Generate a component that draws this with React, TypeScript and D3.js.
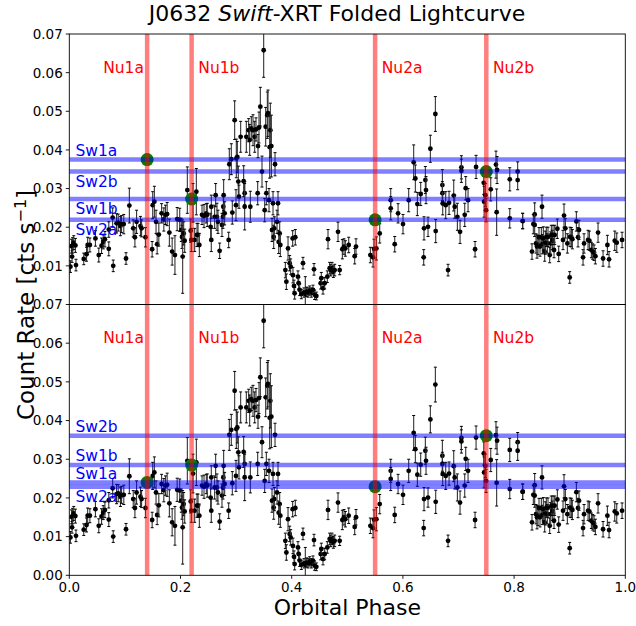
import React from 'react';
import * as d3 from 'd3';

// folded light curve (same points in both panels)
const phase = [
  0.002, 0.004, 0.005, 0.006, 0.008, 0.011, 0.012, 0.026, 0.031, 0.033, 0.037, 0.047, 0.053, 0.058, 0.061, 0.064,
  0.071, 0.071, 0.078, 0.079, 0.085, 0.088, 0.092, 0.094, 0.098, 0.102, 0.108, 0.115, 0.118, 0.121, 0.128, 0.130,
  0.137, 0.149, 0.150, 0.153, 0.156, 0.158, 0.161, 0.166, 0.170, 0.173, 0.176, 0.180, 0.185, 0.190, 0.194, 0.1986,
  0.2015, 0.2027, 0.2039, 0.2057, 0.2075, 0.2123, 0.2183, 0.2195, 0.2225, 0.2255, 0.2285, 0.2297, 0.2315, 0.2339,
  0.2387, 0.2423, 0.2465, 0.2482, 0.2542, 0.2554, 0.2554, 0.2614, 0.2632, 0.2656, 0.2674, 0.2704, 0.2746, 0.2764,
  0.2770, 0.2776, 0.2794, 0.2866, 0.2878, 0.2914, 0.2932, 0.2974, 0.2998, 0.3004, 0.3022, 0.3040, 0.3052, 0.3082,
  0.3136, 0.3154, 0.3154, 0.3184, 0.3226, 0.3244, 0.3256, 0.3274, 0.3304, 0.3334, 0.3358, 0.3388, 0.3394, 0.3412,
  0.3436, 0.3466, 0.3496, 0.3514, 0.3532, 0.3544, 0.3562, 0.3574, 0.3592, 0.3604, 0.3616, 0.3634, 0.3646, 0.3664,
  0.3676, 0.3688, 0.3700, 0.3736, 0.3754, 0.3766, 0.3784, 0.3796, 0.3886, 0.3904, 0.3934, 0.3963, 0.3981, 0.4017,
  0.4023, 0.4041, 0.4053, 0.4065, 0.4113, 0.4125, 0.4143, 0.4173, 0.4203, 0.4221, 0.4245, 0.4269, 0.4293, 0.4323,
  0.4353, 0.4383, 0.4401, 0.4413, 0.4443, 0.4521, 0.4533, 0.4563, 0.4593, 0.4641, 0.4653, 0.4683, 0.4701, 0.4725,
  0.4749, 0.4773, 0.4833, 0.4863, 0.4911, 0.4941, 0.4965, 0.5025, 0.5133, 0.5157, 0.5415, 0.5463, 0.5481, 0.5523,
  0.5583, 0.5781, 0.5781, 0.5853, 0.5913, 0.6002, 0.6104, 0.6194, 0.6224, 0.6260, 0.6320, 0.6374, 0.6380, 0.6404,
  0.6416, 0.6452, 0.6494, 0.6584, 0.6590, 0.6710, 0.6710, 0.6716, 0.6770, 0.6812, 0.6830, 0.6914, 0.6932, 0.6980,
  0.7028, 0.7052, 0.7052, 0.7112, 0.7130, 0.7172, 0.7298, 0.7316, 0.7454, 0.7460, 0.7484, 0.7496, 0.7580, 0.7674,
  0.7686, 0.7694, 0.7922, 0.7922, 0.8064, 0.8064, 0.8154, 0.8154, 0.8322, 0.8346, 0.8370, 0.8370, 0.8394, 0.8412,
  0.8430, 0.8448, 0.8466, 0.8490, 0.8502, 0.8508, 0.8526, 0.8550, 0.8562, 0.8580, 0.8598, 0.8610, 0.8640, 0.8658,
  0.8670, 0.8688, 0.8700, 0.8718, 0.8730, 0.8778, 0.8802, 0.8880, 0.8898, 0.8922, 0.8958, 0.9000, 0.9006, 0.9030,
  0.9048, 0.9120, 0.9150, 0.9168, 0.9240, 0.9258, 0.9330, 0.9354, 0.9390, 0.9414, 0.9438, 0.9462, 0.9510, 0.9600,
  0.9678, 0.9708, 0.9810, 0.9846, 0.9942,
];
const rate = [
  0.0098, 0.0151, 0.0124, 0.0153, 0.0160, 0.0153, 0.0102, 0.0118, 0.0130, 0.0154, 0.0154, 0.0171, 0.0128, 0.0152, 0.0162, 0.0169,
  0.0144, 0.0194, 0.0225, 0.0100, 0.0210, 0.0212, 0.0203, 0.0208, 0.0208, 0.0119, 0.0256, 0.0197, 0.0174, 0.0214, 0.0203, 0.0197,
  0.0174, 0.0143, 0.0257, 0.0266, 0.0214, 0.0156, 0.0181, 0.0236, 0.0220, 0.0232, 0.0234, 0.0186, 0.0137, 0.0128, 0.0221, 0.0219,
  0.0193, 0.0175, 0.0124, 0.0184, 0.0165, 0.0296, 0.0191, 0.0167, 0.0263, 0.0167, 0.0292, 0.0180, 0.0180, 0.0154,
  0.0232, 0.0229, 0.0236, 0.0232, 0.0201, 0.0253, 0.0167, 0.0227, 0.0283, 0.0227, 0.0214, 0.0139, 0.0206, 0.0227,
  0.0253, 0.0283, 0.0236, 0.0167, 0.0363, 0.0376, 0.0238, 0.0477, 0.0257, 0.0378, 0.0382, 0.0318, 0.0279, 0.0434,
  0.0319, 0.0288, 0.0253, 0.0434, 0.0451, 0.0426, 0.0253, 0.0456, 0.0451, 0.0434, 0.0453, 0.0288, 0.0410, 0.0458,
  0.0512, 0.0344, 0.0658, 0.0244, 0.0460, 0.0288, 0.0490, 0.0495, 0.0270, 0.0407, 0.0451, 0.0410, 0.0193, 0.0262,
  0.0175, 0.0197, 0.0363, 0.0214, 0.0262, 0.0162, 0.0184, 0.0154, 0.0089, 0.0059, 0.0145, 0.0107, 0.0098, 0.0171,
  0.0076, 0.0048, 0.0029, 0.0174, 0.0072, 0.0055, 0.0038, 0.0027, 0.0107, 0.0031, 0.0027, 0.0033, 0.0031, 0.0036,
  0.0031, 0.0038, 0.0091, 0.0025, 0.0022, 0.0055, 0.0068, 0.0042, 0.0055, 0.0072, 0.0169, 0.0094, 0.0089, 0.0094,
  0.0085, 0.0089, 0.0188, 0.0089, 0.0143, 0.0150, 0.0145, 0.0154, 0.0125, 0.0150, 0.0128, 0.0122, 0.0144, 0.0145,
  0.0184, 0.0270, 0.0249, 0.0156, 0.0236, 0.0208, 0.0270, 0.0368, 0.0326, 0.0260, 0.0286, 0.0122, 0.0197, 0.0322,
  0.0296, 0.0201, 0.0403, 0.0493, 0.0190, 0.0309, 0.0288, 0.0262, 0.0257, 0.0089, 0.0263, 0.0282, 0.0253, 0.0227,
  0.0188, 0.0355, 0.0346, 0.0232, 0.0301, 0.0270, 0.0143, 0.0356, 0.0315, 0.0266, 0.0283, 0.0244, 0.0298, 0.0362,
  0.0239, 0.0348, 0.0324, 0.0223, 0.0344, 0.0322, 0.0216, 0.0216, 0.0137, 0.0208, 0.0233, 0.0206, 0.0158, 0.0150,
  0.0154, 0.0174, 0.0150, 0.0174, 0.0253, 0.0156, 0.0171, 0.0137, 0.0160, 0.0175, 0.0158, 0.0175, 0.0128, 0.0158,
  0.0180, 0.0167, 0.0180, 0.0141, 0.0180, 0.0196, 0.0131, 0.0167, 0.0230, 0.0197, 0.0158, 0.0070, 0.0175, 0.0174,
  0.0169, 0.0215, 0.0174, 0.0193, 0.0122, 0.0158, 0.0167, 0.0165, 0.0141, 0.0137, 0.0134, 0.0125, 0.0186, 0.0119,
  0.0154, 0.0117, 0.0165, 0.0160, 0.0167,
];
const rateErr = [
  0.0015, 0.0018, 0.0015, 0.0020, 0.0018, 0.0018, 0.0015, 0.0015, 0.0018, 0.0020, 0.0018, 0.0020, 0.0018, 0.0020, 0.0018, 0.0020,
  0.0018, 0.0020, 0.0025, 0.0015, 0.0025, 0.0022, 0.0025, 0.0022, 0.0025, 0.0015, 0.0045, 0.0022, 0.0025, 0.0030, 0.0025, 0.0022,
  0.0025, 0.0020, 0.0035, 0.0040, 0.0030, 0.0025, 0.0030, 0.0025, 0.0030, 0.0025, 0.0030, 0.0035, 0.0035, 0.0050, 0.0030, 0.0030,
  0.0030, 0.0030, 0.0095, 0.0030, 0.0030, 0.0060, 0.0030, 0.0030, 0.0050, 0.0030, 0.0060, 0.0030, 0.0030, 0.0030,
  0.0025, 0.0030, 0.0025, 0.0030, 0.0035, 0.0030, 0.0030, 0.0030, 0.0030, 0.0035, 0.0030, 0.0020, 0.0030, 0.0030,
  0.0030, 0.0040, 0.0030, 0.0020, 0.0040, 0.0040, 0.0030, 0.0050, 0.0040, 0.0050, 0.0040, 0.0040, 0.0030, 0.0040,
  0.0040, 0.0030, 0.0060, 0.0040, 0.0030, 0.0040, 0.0040, 0.0030, 0.0040, 0.0040, 0.0030, 0.0030, 0.0030, 0.0040,
  0.0050, 0.0040, 0.0070, 0.0030, 0.0050, 0.0030, 0.0060, 0.0060, 0.0030, 0.0080, 0.0070, 0.0080, 0.0030, 0.0030,
  0.0030, 0.0030, 0.0030, 0.0030, 0.0030, 0.0030, 0.0030, 0.0030, 0.0020, 0.0020, 0.0030, 0.0020, 0.0020, 0.0020,
  0.0020, 0.0015, 0.0015, 0.0020, 0.0015, 0.0015, 0.0015, 0.0012, 0.0015, 0.0012, 0.0045, 0.0012, 0.0012, 0.0012,
  0.0012, 0.0012, 0.0015, 0.0012, 0.0010, 0.0015, 0.0015, 0.0015, 0.0015, 0.0015, 0.0025, 0.0015, 0.0015, 0.0015,
  0.0015, 0.0015, 0.0025, 0.0012, 0.0025, 0.0020, 0.0020, 0.0020, 0.0020, 0.0020, 0.0020, 0.0025, 0.0025, 0.0030,
  0.0025, 0.0030, 0.0030, 0.0020, 0.0025, 0.0025, 0.0030, 0.0045, 0.0035, 0.0030, 0.0030, 0.0020, 0.0030, 0.0035,
  0.0035, 0.0025, 0.0035, 0.0045, 0.0030, 0.0040, 0.0030, 0.0030, 0.0035, 0.0015, 0.0030, 0.0040, 0.0030, 0.0035,
  0.0030, 0.0030, 0.0030, 0.0030, 0.0030, 0.0030, 0.0020, 0.0030, 0.0030, 0.0040, 0.0030, 0.0030, 0.0030, 0.0035,
  0.0060, 0.0035, 0.0030, 0.0025, 0.0025, 0.0025, 0.0020, 0.0020, 0.0020, 0.0025, 0.0030, 0.0030, 0.0025, 0.0030,
  0.0025, 0.0025, 0.0025, 0.0025, 0.0030, 0.0025, 0.0030, 0.0025, 0.0030, 0.0025, 0.0025, 0.0025, 0.0020, 0.0030,
  0.0025, 0.0025, 0.0025, 0.0020, 0.0025, 0.0025, 0.0020, 0.0025, 0.0030, 0.0025, 0.0025, 0.0015, 0.0025, 0.0025,
  0.0025, 0.0025, 0.0025, 0.0025, 0.0020, 0.0025, 0.0025, 0.0025, 0.0020, 0.0020, 0.0020, 0.0020, 0.0025, 0.0020,
  0.0025, 0.0020, 0.0025, 0.0025, 0.0020,
];

// NuSTAR epochs (vertical) and matching Swift levels (horizontal)
const nuNames = ['Nu1a', 'Nu1b', 'Nu2a', 'Nu2b'];
const nuPhase = [0.14, 0.22, 0.55, 0.75];
const swNames = ['Sw1a', 'Sw1b', 'Sw2a', 'Sw2b'];
const swTop = [0.0375, 0.0273, 0.0219, 0.0344];
const swBottom = [0.0240, 0.0285, 0.0229, 0.0361];
const swBelowTop = [false, true, true, true];
const swBelowBottom = [false, false, true, false];

const yTicks = [0, 0.01, 0.02, 0.03, 0.04, 0.05, 0.06, 0.07];
const xTicks = [0, 0.2, 0.4, 0.6, 0.8, 1.0];

const W = 636;
const H = 626;
const left = 69.3;
const right = 625.3;
const font = 'DejaVu Sans, sans-serif';

const x = d3.scaleLinear().domain([0, 1]).range([left, right]);

const Panel = ({id, top, bottom, levels, below, showZero}: {
  id: string; top: number; bottom: number; levels: number[]; below: boolean[]; showZero: boolean;
}) => {
  const y = d3.scaleLinear().domain([0, 0.07]).range([bottom, top]);
  const ticks = showZero ? yTicks : yTicks.slice(1);
  return (
    <g>
      <defs>
        <clipPath id={id}>
          <rect x={left} y={top} width={right - left} height={bottom - top} />
        </clipPath>
      </defs>
      <g clipPath={`url(#${id})`}>
        {phase.map((p, i) => {
          const cx = x(p);
          const y0 = y(rate[i] - rateErr[i]);
          const y1 = y(rate[i] + rateErr[i]);
          return (
            <g key={i}>
              <line x1={cx} x2={cx} y1={y0} y2={y1} stroke="#333" strokeWidth={1.1} />
              <line x1={cx - 1.5} x2={cx + 1.5} y1={y0} y2={y0} stroke="#000" strokeWidth={1} />
              <line x1={cx - 1.5} x2={cx + 1.5} y1={y1} y2={y1} stroke="#000" strokeWidth={1} />
              <circle cx={cx} cy={y(rate[i])} r={2.4} fill="#000" />
            </g>
          );
        })}
        {nuPhase.map((p, i) => (
          <circle key={'g' + i} cx={x(p)} cy={y(levels[i])} r={6.5} fill="#008000" />
        ))}
        {levels.map((v, i) => (
          <line key={'h' + i} x1={left} x2={right} y1={y(v)} y2={y(v)}
                stroke="rgb(0,0,255)" strokeOpacity={0.5} strokeWidth={4.5} />
        ))}
        {nuPhase.map((p, i) => (
          <line key={'v' + i} x1={x(p)} x2={x(p)} y1={top} y2={bottom}
                stroke="rgb(255,0,0)" strokeOpacity={0.5} strokeWidth={4.5} />
        ))}
      </g>
      {nuPhase.map((p, i) => (
        <text key={'nt' + i} x={i === 0 ? x(0.061) : x(p + 0.012)} y={y(0.06)}
              fill="red" fontSize={15.5} fontFamily={font}>{nuNames[i]}</text>
      ))}
      {levels.map((v, i) => (
        <text key={'st' + i} x={x(0.011)} y={y(below[i] ? v - 0.004 : v + 0.001)}
              fill="blue" fontSize={15.5} fontFamily={font}>{swNames[i]}</text>
      ))}
      <rect x={left} y={top} width={right - left} height={bottom - top}
            fill="none" stroke="#000" strokeWidth={0.9} />
      {ticks.map(t => (
        <g key={'yt' + t}>
          <line x1={left - 3.5} x2={left} y1={y(t)} y2={y(t)} stroke="#000" strokeWidth={0.9} />
          <text x={left - 6.5} y={y(t)} dy="0.36em" textAnchor="end" fontSize={13.5}
                fontFamily={font}>{d3.format('.2f')(t)}</text>
        </g>
      ))}
    </g>
  );
};

export default function App() {
  const bottomEdge = 575.3;
  return (
    <svg width={W} height={H} style={{position: 'absolute', left: 0, top: 0, background: '#fff'}}>
      <text x={337} y={21} textAnchor="middle" fontSize={22} fontFamily={font}>
        J0632 <tspan fontStyle="italic">Swift</tspan>-XRT Folded Lightcurve
      </text>
      <Panel id="clipTop" top={34} bottom={304.5} levels={swTop} below={swBelowTop} showZero={false} />
      <Panel id="clipBottom" top={304.5} bottom={bottomEdge} levels={swBottom} below={swBelowBottom} showZero={true} />
      {xTicks.map(t => (
        <g key={'xt' + t}>
          <line x1={x(t)} x2={x(t)} y1={bottomEdge} y2={bottomEdge + 3.5} stroke="#000" strokeWidth={0.9} />
          <text x={x(t)} y={bottomEdge + 17} textAnchor="middle" fontSize={13.5}
                fontFamily={font}>{d3.format('.1f')(t)}</text>
        </g>
      ))}
      <text x={(left + right) / 2} y={615} textAnchor="middle" fontSize={22} fontFamily={font}>Orbital Phase</text>
      <text transform="translate(34,305) rotate(-90)" textAnchor="middle" fontSize={23} fontFamily={font}>
        Count Rate [cts s<tspan dy={-8} fontSize={16}>−1</tspan><tspan dy={8}>]</tspan>
      </text>
    </svg>
  );
}
